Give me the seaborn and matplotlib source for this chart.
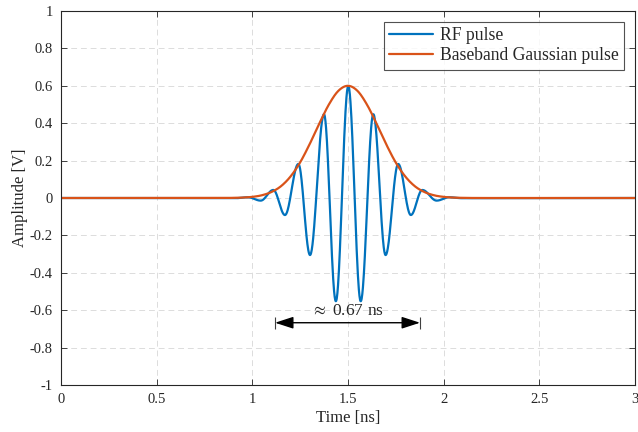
import numpy as np
import pandas as pd
import matplotlib
matplotlib.use("Agg")
import matplotlib.pyplot as plt
import seaborn as sns

# RF pulse: times [ns] and values [V] of the successive extremes
rf_peak_t = [0.912, 0.978, 1.044, 1.110, 1.171, 1.241, 1.302, 1.375, 1.437, 1.502,
             1.567, 1.633, 1.697, 1.763, 1.829, 1.889, 1.964, 2.030, 2.096]
rf_peak_v = [-0.001, 0.004, -0.014, 0.043, -0.091, 0.182, -0.305, 0.448, -0.552, 0.599,
             -0.552, 0.448, -0.305, 0.182, -0.091, 0.043, -0.014, 0.004, -0.001]

# Baseband Gaussian envelope
env_t = [0.0, 0.80, 0.85, 0.90, 0.95, 1.00, 1.05, 1.10, 1.15, 1.20, 1.25, 1.30, 1.35, 1.40,
         1.45, 1.50, 1.55, 1.60, 1.65, 1.70, 1.75, 1.80, 1.85, 1.90, 1.95, 2.00, 2.05,
         2.10, 2.15, 2.20, 3.0]
env_v = [0.0, 0.0, 0.0002, 0.0008, 0.0023, 0.0061, 0.0146, 0.032, 0.063, 0.115, 0.190,
         0.288, 0.397, 0.499, 0.573, 0.600, 0.573, 0.499, 0.397, 0.288, 0.190, 0.115,
         0.063, 0.032, 0.0146, 0.0061, 0.0023, 0.0008, 0.0002, 0.0, 0.0]

span_start, span_end, span_y = 1.119, 1.877, -0.667
span_label = r"$\approx$ 0.67 ns"


def join_extremes(t, v, n=40):
    # smooth half-cosine stroke between neighbouring extremes
    xs, ys = [0.0], [0.0]
    for i in range(len(t) - 1):
        s = np.linspace(0, 1, n, endpoint=False)
        xs.extend(t[i] + (t[i + 1] - t[i]) * s)
        ys.extend(v[i] + (v[i + 1] - v[i]) * (1 - np.cos(np.pi * s)) / 2)
    xs += [t[-1], 3.0]
    ys += [v[-1], 0.0]
    return np.array(xs), np.array(ys)


def catmull_rom(t, v, n=20):
    t = np.asarray(t, float)
    v = np.asarray(v, float)
    tp = np.concatenate([[t[0]], t, [t[-1]]])
    vp = np.concatenate([[v[0]], v, [v[-1]]])
    xs, ys = [], []
    for i in range(1, len(tp) - 2):
        s = np.linspace(0, 1, n, endpoint=False)
        h = tp[i + 1] - tp[i]
        m0 = (vp[i + 1] - vp[i - 1]) / max(tp[i + 1] - tp[i - 1], 1e-9) * h
        m1 = (vp[i + 2] - vp[i]) / max(tp[i + 2] - tp[i], 1e-9) * h
        h00 = 2 * s**3 - 3 * s**2 + 1
        h10 = s**3 - 2 * s**2 + s
        h01 = -2 * s**3 + 3 * s**2
        h11 = s**3 - s**2
        xs.extend(tp[i] + h * s)
        ys.extend(h00 * vp[i] + h10 * m0 + h01 * vp[i + 1] + h11 * m1)
    xs.append(t[-1])
    ys.append(v[-1])
    return np.array(xs), np.array(ys)


sns.set_theme(style="ticks")
plt.rcParams["font.family"] = ["Liberation Serif", "DejaVu Serif"]
plt.rcParams["mathtext.fontset"] = "stix"

rf_x, rf_y = join_extremes(rf_peak_t, rf_peak_v)
env_x, env_y = catmull_rom(env_t, env_v)
df_rf = pd.DataFrame({"t": rf_x, "v": rf_y})
df_env = pd.DataFrame({"t": env_x, "v": env_y})

fig = plt.figure(figsize=(6.38, 4.32), dpi=100)
ax = fig.add_axes([0.0956, 0.1088, 0.8994, 0.8657])

sns.lineplot(data=df_rf, x="t", y="v", ax=ax, color="#0072BD", lw=1.6,
             sort=False, estimator=None, label="RF pulse")
sns.lineplot(data=df_env, x="t", y="v", ax=ax, color="#D95319", lw=1.6,
             sort=False, estimator=None, label="Baseband Gaussian pulse")

ax.set_xlim(0, 3)
ax.set_ylim(-1, 1)
ax.set_xticks(np.arange(0, 3.01, 0.5))
ax.set_yticks(np.arange(-1, 1.01, 0.2))
ax.set_xticklabels(["0", "0.5", "1", "1.5", "2", "2.5", "3"])
ax.set_yticklabels(["-1", "-0.8", "-0.6", "-0.4", "-0.2", "0", "0.2", "0.4", "0.6", "0.8", "1"])
ax.grid(True, ls=(0, (6, 4)), color="#dcdcdc", lw=0.7)
ax.tick_params(direction="in", top=True, right=True, length=4, width=0.6,
               labelsize=10.5, colors="#262626", pad=6)
for sp in ax.spines.values():
    sp.set_color("#262626")
    sp.set_linewidth(0.8)
ax.set_xlabel("Time [ns]", fontsize=12, color="#262626", labelpad=3)
ax.set_ylabel("Amplitude [V]", fontsize=12, color="#262626", labelpad=1)

ax.annotate("", xy=(span_start, span_y), xytext=(span_end, span_y),
            arrowprops=dict(arrowstyle="<|-|>,head_length=0.8,head_width=0.26",
                            color="black", lw=1.0, mutation_scale=14,
                            shrinkA=0, shrinkB=0))
ax.plot([span_start, span_end], [span_y, span_y], ls="none", marker="|",
        color="#404040", ms=9, mew=0.8)
ax.text((span_start + span_end) / 2, span_y + 0.02, span_label, ha="center",
        va="bottom", fontsize=12.5)

leg = ax.legend(loc="upper right", fontsize=12.7, frameon=True, fancybox=False,
                edgecolor="#262626", handlelength=2.5, borderpad=0.3,
                labelspacing=0.2, handletextpad=0.4, borderaxespad=0.6)
leg.get_frame().set_linewidth(0.8)

fig.savefig("out.png", dpi=100)
